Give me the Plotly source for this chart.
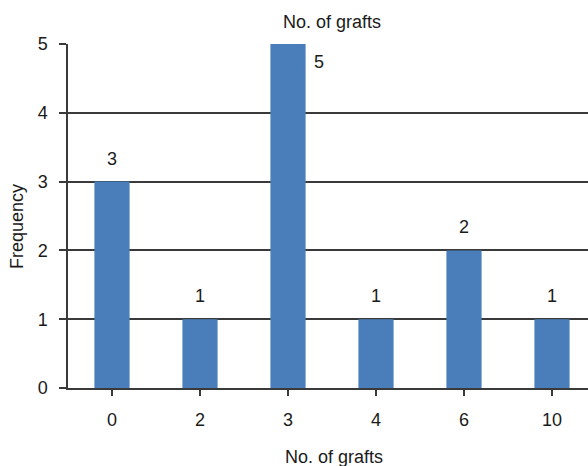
import plotly.graph_objects as go

# Frequency of each number of grafts
categories = ["0", "2", "3", "4", "6", "10"]
frequency = [3, 1, 5, 1, 2, 1]
y_ticks = [0, 1, 2, 3, 4, 5]

BAR_COLOR = "#4a7ebb"
LINE_COLOR = "#3a3a3a"
TEXT_COLOR = "#1a1a1a"
FONT = "Liberation Sans, Arial, sans-serif"
FS = 18

# plot area in pixels
L, T, B, W, H = 68, 44, 78, 520, 344
fig_h = 466

fig = go.Figure()
fig.add_trace(go.Bar(
    x=list(range(len(categories))),
    y=frequency,
    marker=dict(color=BAR_COLOR, line=dict(width=0)),
    width=0.4,
    hoverinfo="skip",
))

# Value labels above the bars; the tallest bar reaches the top of the axis,
# so its label sits beside the bar instead.
y_max = max(y_ticks)
for i, v in enumerate(frequency):
    if v >= y_max:
        fig.add_annotation(x=i, y=v, text=str(v), showarrow=False,
                           xshift=31, yshift=-18,
                           font=dict(size=FS, color=TEXT_COLOR, family=FONT))
    else:
        fig.add_annotation(x=i, y=v, text=str(v), showarrow=False,
                           yshift=23,
                           font=dict(size=FS, color=TEXT_COLOR, family=FONT))

# Axis titles placed in pixel terms relative to the plot area
fig.add_annotation(xref="paper", yref="paper",
                   x=(334 - L) / W, y=(T + H - 457) / H,
                   text="No. of grafts", showarrow=False,
                   xanchor="center", yanchor="middle",
                   font=dict(size=FS, color=TEXT_COLOR, family=FONT))
fig.add_annotation(xref="paper", yref="paper",
                   x=(17 - L) / W, y=(T + H - 227) / H,
                   text="Frequency", showarrow=False, textangle=-90,
                   xanchor="center", yanchor="middle",
                   font=dict(size=FS, color=TEXT_COLOR, family=FONT))

fig.update_layout(
    width=588, height=fig_h,
    margin=dict(l=L, r=0, t=T, b=B),
    paper_bgcolor="white", plot_bgcolor="white",
    showlegend=False,
    font=dict(family=FONT, size=FS, color=TEXT_COLOR),
    title=dict(text="No. of grafts", x=(L + 596) / 2 / 588, xanchor="center",
               y=1 - 22 / fig_h, yanchor="middle",
               font=dict(size=FS, family=FONT, color=TEXT_COLOR)),
    xaxis=dict(
        tickmode="array",
        tickvals=list(range(len(categories))),
        ticktext=categories,
        range=[-0.5, -0.5 + W / 88],
        showgrid=False, zeroline=False,
        showline=True, linecolor=LINE_COLOR, linewidth=1.5,
        ticks="outside", ticklen=6, tickcolor=LINE_COLOR, tickwidth=1.5,
        tickson="boundaries",
        ticklabelstandoff=9,
        tickfont=dict(size=FS, family=FONT, color=TEXT_COLOR),
        fixedrange=True,
    ),
    yaxis=dict(
        range=[0, 5],
        tickmode="array", tickvals=y_ticks,
        showgrid=True, gridcolor=LINE_COLOR, gridwidth=1.5,
        zeroline=False,
        showline=True, linecolor=LINE_COLOR, linewidth=1.5,
        ticks="outside", ticklen=7, tickcolor=LINE_COLOR, tickwidth=1.5,
        ticklabelstandoff=8,
        tickfont=dict(size=FS, family=FONT, color=TEXT_COLOR),
        fixedrange=True,
    ),
)

fig.write_html("out.html", config={"displayModeBar": False})
